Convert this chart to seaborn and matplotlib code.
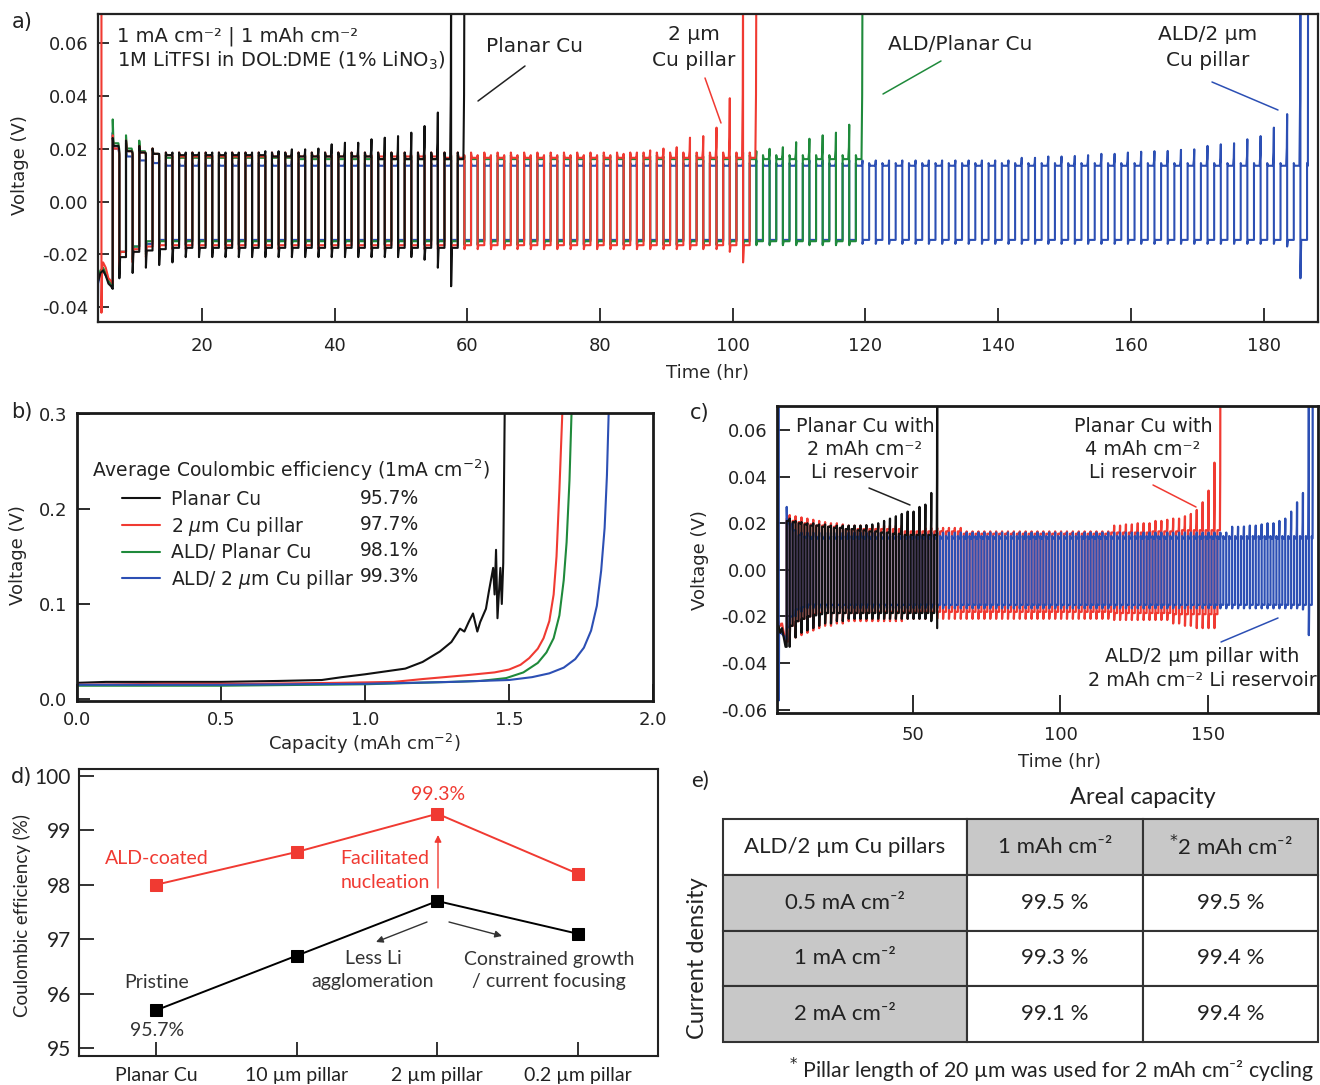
import numpy as np
import pandas as pd
import matplotlib
matplotlib.use("Agg")
import matplotlib.pyplot as plt
from matplotlib.lines import Line2D
import seaborn as sns

# ============================ DATA ============================
# ---- (a) Li plating/stripping, 1 mA cm-2 | 1 mAh cm-2 (per-cycle readings) ----
A_FIRST_EDGE = 6.55      # h, first stripping step
A_PERIOD = 2.0           # h per cycle

# Planar Cu (black), 27 cycles
a_planar_init_t = [4.35, 4.7, 5.1, 5.5, 5.9, 6.3, 6.55]
a_planar_init_v = [-0.030, -0.027, -0.026, -0.028, -0.031, -0.032, -0.033]
a_planar_start = [0.024, 0.023, 0.021, 0.020] + [0.0185] * 23
a_planar_up = [0.021, 0.019, 0.0185, 0.018] + [0.0175] * 8 + [0.017] * 8 + [0.016] * 7
a_planar_peak = [0.018] * 4 + [0.0185] * 7 + [0.019, 0.019, 0.0197, 0.0197, 0.020, 0.0216,
                                               0.0222, 0.0222, 0.0235, 0.0241, 0.0247, 0.026,
                                               0.0285, 0.0336, 0.085, 0.085]
a_planar_down = [-0.021, -0.019, -0.0185, -0.018] + [-0.0175] * 23
a_planar_dip = [-0.029, -0.027, -0.025, -0.024, -0.023] + [-0.021] * 18 + [-0.022, -0.025, -0.032, -0.020]

# 2 um Cu pillar (red), 49 cycles
a_pillar_init_t = [4.85, 4.85, 4.95, 5.1, 5.5, 5.9, 6.3, 6.55]
a_pillar_init_v = [0.072, -0.042, -0.025, -0.023, -0.025, -0.029, -0.030, -0.031]
a_pillar_start = [0.025, 0.023, 0.021, 0.020] + [0.0185] * 45
a_pillar_up = [0.020, 0.019, 0.0185, 0.018, 0.0175] + [0.017] * 20 + [0.0165] * 24
a_pillar_peak = [0.0175] * 37 + [0.0175, 0.018, 0.0185, 0.0193, 0.020, 0.0205, 0.0241,
                                 0.0247, 0.0279, 0.039, 0.085, 0.085]
a_pillar_down = [-0.019, -0.018, -0.017] + [-0.0165] * 46
a_pillar_dip = [-0.025, -0.023, -0.021] + [-0.018] * 43 + [-0.019, -0.023, -0.018]

# ALD / planar Cu (green), 57 cycles
a_ald_init_t = [4.35, 4.7, 5.1, 5.5, 5.9, 6.3, 6.55]
a_ald_init_v = [-0.029, -0.026, -0.025, -0.027, -0.030, -0.031, -0.032]
a_ald_start = [0.031, 0.025, 0.023, 0.020] + [0.0175] * 53
a_ald_up = [0.022, 0.020, 0.019, 0.018] + [0.0165] * 10 + [0.016] * 43
a_ald_peak = [0.017] * 47 + [0.0185, 0.019, 0.0199, 0.0205, 0.0224, 0.0237, 0.025, 0.026, 0.029, 0.085]
a_ald_down = [-0.019, -0.017] + [-0.015] * 55
a_ald_dip = [-0.026, -0.022, -0.020] + [-0.0165] * 54

# ALD / 2 um Cu pillar (blue), 91 cycles
a_aldp_init_t = [4.3, 4.35, 4.7, 5.1, 5.5, 5.9, 6.3, 6.55]
a_aldp_init_v = [-0.046, -0.031, -0.027, -0.026, -0.028, -0.030, -0.031, -0.032]
a_aldp_start = [0.026, 0.022, 0.019, 0.017] + [0.0145] * 87
a_aldp_up = [0.020, 0.017, 0.0155, 0.0145] + [0.0135] * 87
a_aldp_peak = [0.0155] * 68 + [0.0165, 0.0165, 0.017, 0.017, 0.0172, 0.0175, 0.018, 0.018, 0.0185,
                               0.0188, 0.019, 0.0191, 0.0195, 0.0197, 0.021, 0.0216, 0.022, 0.0235,
                               0.0247, 0.0279, 0.033, 0.085, 0.085]
a_aldp_down = [-0.019, -0.017, -0.016] + [-0.0145] * 88
a_aldp_dip = [-0.026, -0.022, -0.019] + [-0.016] * 85 + [-0.017, -0.029, -0.016]
A_ALDP_FINAL_STRIP = 0.15

# ---- (b) voltage profile vs capacity ----
b_planar_cap = [0.0, 0.1, 0.3, 0.5, 0.7, 0.85, 0.92, 1.0, 1.07, 1.14, 1.2, 1.26, 1.30, 1.33, 1.345,
                1.36, 1.375, 1.39, 1.40, 1.42, 1.43, 1.445, 1.45, 1.455, 1.46, 1.47, 1.475, 1.48, 1.485]
b_planar_v = [0.017, 0.018, 0.018, 0.018, 0.019, 0.020, 0.023, 0.026, 0.029, 0.032, 0.039, 0.050,
              0.060, 0.074, 0.071, 0.081, 0.090, 0.071, 0.081, 0.095, 0.113, 0.138, 0.110, 0.157,
              0.085, 0.138, 0.100, 0.143, 0.300]
b_pillar_cap = [0.0, 0.3, 0.6, 0.9, 1.1, 1.2, 1.35, 1.45, 1.5, 1.54, 1.57, 1.60, 1.62, 1.64, 1.655,
                1.665, 1.675, 1.685]
b_pillar_v = [0.015, 0.016, 0.016, 0.017, 0.018, 0.021, 0.025, 0.028, 0.031, 0.036, 0.043, 0.053,
              0.064, 0.082, 0.110, 0.150, 0.220, 0.300]
b_ald_cap = [0.0, 0.5, 1.0, 1.3, 1.4, 1.49, 1.55, 1.60, 1.63, 1.655, 1.675, 1.69, 1.70, 1.71, 1.717]
b_ald_v = [0.014, 0.014, 0.0155, 0.018, 0.019, 0.022, 0.028, 0.038, 0.049, 0.064, 0.088, 0.125,
           0.165, 0.230, 0.300]
b_aldp_cap = [0.0, 0.5, 1.0, 1.3, 1.5, 1.58, 1.64, 1.69, 1.73, 1.76, 1.785, 1.805, 1.82, 1.832,
              1.84, 1.846]
b_aldp_v = [0.015, 0.015, 0.016, 0.018, 0.020, 0.023, 0.027, 0.033, 0.042, 0.054, 0.072, 0.098,
            0.135, 0.180, 0.235, 0.300]
b_labels = ["Planar Cu", "2 $\\mu$m Cu pillar", "ALD/ Planar Cu", "ALD/ 2 $\\mu$m Cu pillar"]
b_ce = ["95.7%", "97.7%", "98.1%", "99.3%"]

# ---- (c) cycling with Li reservoir ----
C_FIRST_EDGE = 7.2
C_PERIOD = 2.0
# planar Cu + 2 mAh reservoir (black), 26 cycles
c_planar_init_t = [4.4, 5.0, 5.6, 6.2, 6.8, 7.2]
c_planar_init_v = [-0.024, -0.027, -0.025, -0.029, -0.033, -0.033]
c_planar_up = [0.021, 0.0205, 0.020, 0.0195, 0.019, 0.019, 0.0185, 0.0185, 0.018, 0.018, 0.0175,
               0.0175, 0.017, 0.017, 0.0165, 0.0165, 0.016, 0.016, 0.0155, 0.0155, 0.015, 0.015,
               0.015, 0.015, 0.015, 0.015]
c_planar_peak = [0.022, 0.021, 0.0205, 0.020, 0.020, 0.0195, 0.0195, 0.019, 0.019, 0.019, 0.019,
                 0.019, 0.019, 0.0192, 0.0195, 0.020, 0.021, 0.022, 0.023, 0.024, 0.025, 0.025,
                 0.027, 0.028, 0.033, 0.085]
c_planar_down = [-0.024, -0.022, -0.021, -0.020, -0.0195, -0.019] + [-0.0185] * 20
c_planar_dip = [-0.033, -0.029, -0.027, -0.026, -0.025, -0.024, -0.023, -0.023, -0.022, -0.022] + \
               [-0.021] * 14 + [-0.022, -0.025]
# planar Cu + 4 mAh reservoir (red), 74 cycles
c_pillar_init_t = [4.4, 5.0, 5.6, 6.2, 6.8, 7.2]
c_pillar_init_v = [-0.022, -0.024, -0.023, -0.027, -0.030, -0.031]
c_pillar_up = [0.022, 0.021, 0.0205, 0.020, 0.0195, 0.019, 0.019, 0.0185, 0.0185, 0.018] + \
              [0.0175] * 10 + [0.0165] * 10 + [0.0155] * 25 + [0.016] * 7 + [0.0165] * 5 + [0.017] * 7
c_pillar_peak = [0.0235, 0.023, 0.0225, 0.022, 0.0215, 0.021, 0.0205, 0.020, 0.020, 0.0195] + \
                [0.019] * 10 + [0.018] * 10 + [0.0165] * 25 + \
                [0.019, 0.019, 0.0195, 0.0195, 0.020, 0.020, 0.020] + \
                [0.021, 0.021, 0.0215, 0.022, 0.022] + \
                [0.023, 0.024, 0.0257, 0.029, 0.034, 0.046, 0.085]
c_pillar_down = [-0.024, -0.022, -0.021, -0.020, -0.019] + [-0.0185] * 10 + [-0.018] * 40 + \
                [-0.0185] * 10 + [-0.019] * 9
c_pillar_dip = [-0.031, -0.029, -0.028, -0.027, -0.026, -0.025, -0.024, -0.024, -0.023, -0.023] + \
               [-0.022] * 10 + [-0.021] * 35 + [-0.0215] * 10 + \
               [-0.023, -0.023, -0.024, -0.024, -0.025, -0.025, -0.025, -0.025, -0.025]
# ALD / 2 um pillar + 2 mAh reservoir (blue), 90 cycles
c_aldp_init_t = [4.5, 4.5, 4.6, 5.2, 6.0, 6.6, 7.2]
c_aldp_init_v = [0.072, -0.056, -0.026, -0.027, -0.028, -0.029, -0.030]
c_aldp_start = [0.027, 0.020] + [0.0145] * 88
c_aldp_up = [0.020, 0.017, 0.015, 0.014] + [0.0135] * 86
c_aldp_peak = [0.017, 0.017, 0.016, 0.016] + [0.016] * 71 + \
              [0.0185, 0.0185, 0.0186, 0.019, 0.019, 0.0195, 0.020, 0.020, 0.021, 0.022, 0.025,
               0.029, 0.033, 0.085, 0.085]
c_aldp_down = [-0.020, -0.017, -0.016] + [-0.015] * 87
c_aldp_dip = [-0.025, -0.020, -0.018] + [-0.0165] * 84 + [-0.017, -0.028, -0.016]
C_ALDP_FINAL_STRIP = 0.3

# ---- (d) Coulombic efficiency ----
d_categories = ["Planar Cu", "10 µm pillar", "2 µm pillar", "0.2 µm pillar"]
d_pristine = [95.7, 96.7, 97.7, 97.1]
d_ald = [98.0, 98.6, 99.3, 98.2]

# ---- (e) table ----
e_col_labels = ["ALD/2 µm Cu pillars", "1 mAh cm⁻²", "$^{*}$2 mAh cm⁻²"]
e_row_labels = ["0.5 mA cm⁻²", "1 mA cm⁻²", "2 mA cm⁻²"]
e_ce_1mAh = [99.5, 99.3, 99.1]
e_ce_2mAh = [99.5, 99.4, 99.4]

# ============================ STYLE ============================
BLACK, RED, GREEN, BLUE = "#111111", "#f03a32", "#1f8a3b", "#2c4fb4"
TXT = "#222222"
W, H = 1320, 1085
sns.set_theme(style="ticks")
plt.rcParams["font.family"] = ["DejaVu Sans"]
plt.rcParams["axes.unicode_minus"] = False
plt.rcParams["mathtext.fontset"] = "dejavusans"
SANS2 = ["Lato", "DejaVu Sans"]

fig = plt.figure(figsize=(W / 100, H / 100), dpi=100)


def rect(l, t, r, b):
    return [l / W, 1 - b / H, (r - l) / W, (b - t) / H]


def fp(x, y):
    return (x / W, 1 - y / H)


def build_trace(first_edge, period, up, peak, down, dip, start=None, init_t=(), init_v=(),
                final_strip=None, end_drop=False):
    t, v = list(init_t), list(init_v)
    half = period / 2.0
    n = len(up)
    for k in range(n):
        t0 = first_edge + k * period
        s = up[k] if start is None else start[k]
        L = half if (k < n - 1 or final_strip is None) else final_strip
        t += [t0, t0 + 0.12 * L, t0 + 0.85 * L, t0 + 0.95 * L, t0 + L]
        v += [s, up[k], up[k], up[k] + 0.35 * (peak[k] - up[k]), peak[k]]
        if k < n - 1:
            t += [t0 + half, t0 + half + 0.12, t0 + period]
            v += [dip[k], down[k], down[k]]
        elif end_drop:
            t += [t0 + L]
            v += [dip[k]]
    return pd.DataFrame({"t": t, "v": v})


def style_axes(ax, lw=1.6, color="#222222", xlen=9, ylen=8, labelsize=13, pad=7):
    for s in ax.spines.values():
        s.set_visible(True)
        s.set_linewidth(lw)
        s.set_color(color)
    ax.tick_params(axis="both", direction="in", width=1.3, color=color, labelsize=labelsize,
                   top=False, right=False, pad=pad, labelcolor=TXT)
    ax.tick_params(axis="x", length=xlen)
    ax.tick_params(axis="y", length=ylen)
    ax.grid(False)


def leader(p0, p1, color):
    fig.add_artist(Line2D([fp(*p0)[0], fp(*p1)[0]], [fp(*p0)[1], fp(*p1)[1]],
                          color=color, lw=1.1, transform=fig.transFigure))


def line(ax, df, color, lw=1.2):
    sns.lineplot(data=df, x="t", y="v", sort=False, estimator=None, color=color, lw=lw, ax=ax)


# ============================ (a) ============================
ax_a = fig.add_axes(rect(98, 14, 1318, 322))
traces_a = [
    (build_trace(A_FIRST_EDGE, A_PERIOD, a_aldp_up, a_aldp_peak, a_aldp_down, a_aldp_dip,
                 a_aldp_start, a_aldp_init_t, a_aldp_init_v, final_strip=A_ALDP_FINAL_STRIP), BLUE),
    (build_trace(A_FIRST_EDGE, A_PERIOD, a_ald_up, a_ald_peak, a_ald_down, a_ald_dip,
                 a_ald_start, a_ald_init_t, a_ald_init_v), GREEN),
    (build_trace(A_FIRST_EDGE, A_PERIOD, a_pillar_up, a_pillar_peak, a_pillar_down, a_pillar_dip,
                 a_pillar_start, a_pillar_init_t, a_pillar_init_v), RED),
    (build_trace(A_FIRST_EDGE, A_PERIOD, a_planar_up, a_planar_peak, a_planar_down, a_planar_dip,
                 a_planar_start, a_planar_init_t, a_planar_init_v), BLACK),
]
for df, col in traces_a:
    line(ax_a, df, col, lw=1.5)
ax_a.set_xlim(4.33, 188.2)
ax_a.set_ylim(-0.0455, 0.0708)
ax_a.set_xticks(np.arange(20, 181, 20))
ax_a.set_yticks(np.arange(-0.04, 0.061, 0.02))
ax_a.yaxis.set_major_formatter(matplotlib.ticker.FormatStrFormatter("%.2f"))
style_axes(ax_a, xlen=10, ylen=8)
ax_a.tick_params(axis="x", pad=11)
ax_a.set_xlabel("Time (hr)", fontsize=13)
ax_a.set_ylabel("Voltage (V)", fontsize=13)
ax_a.xaxis.set_label_coords(0.5, -0.166)
ax_a.yaxis.set_label_coords(-0.064, 0.51)
ax_a.xaxis.label.set_va("center")
ax_a.yaxis.label.set_va("center")

AF = 14.5
fig.text(*fp(117, 36), "1 mA cm⁻² | 1 mAh cm⁻²", fontsize=14, va="center", ha="left", color=TXT)
fig.text(*fp(117, 61), "1M LiTFSI in DOL:DME (1% LiNO$_3$)", fontsize=14, va="center", ha="left", color=TXT)
fig.text(*fp(535, 46), "Planar Cu", fontsize=AF, ha="center", va="center", color=TXT)
leader((525, 66), (478, 101), TXT)
fig.text(*fp(694, 35), "2 µm", fontsize=AF, ha="center", va="center", color=TXT)
fig.text(*fp(694, 61), "Cu pillar", fontsize=AF, ha="center", va="center", color=TXT)
leader((705, 78), (721, 123), RED)
fig.text(*fp(960, 45), "ALD/Planar Cu", fontsize=AF, ha="center", va="center", color=TXT)
leader((941, 61), (883, 94), GREEN)
fig.text(*fp(1208, 35), "ALD/2 µm", fontsize=AF, ha="center", va="center", color=TXT)
fig.text(*fp(1208, 61), "Cu pillar", fontsize=AF, ha="center", va="center", color=TXT)
leader((1212, 82), (1278, 110), BLUE)

# ============================ (b) ============================
ax_b = fig.add_axes(rect(77, 413, 653, 701))
for cap, vv, col, lab in [(b_planar_cap, b_planar_v, BLACK, b_labels[0]),
                          (b_pillar_cap, b_pillar_v, RED, b_labels[1]),
                          (b_ald_cap, b_ald_v, GREEN, b_labels[2]),
                          (b_aldp_cap, b_aldp_v, BLUE, b_labels[3])]:
    sns.lineplot(x=cap, y=vv, sort=False, estimator=None, color=col, lw=1.5, ax=ax_b, label=lab)
ax_b.set_xlim(0, 2.0)
ax_b.set_ylim(-0.0021, 0.301)
ax_b.set_xticks([0.0, 0.5, 1.0, 1.5, 2.0])
ax_b.set_yticks([0.0, 0.1, 0.2, 0.3])
ax_b.xaxis.set_major_formatter(matplotlib.ticker.FormatStrFormatter("%.1f"))
ax_b.yaxis.set_major_formatter(matplotlib.ticker.FormatStrFormatter("%.1f"))
style_axes(ax_b, lw=2.0, color="#1a1a1a", xlen=12, ylen=9)
ax_b.set_xlabel("Capacity (mAh cm$^{-2}$)", fontsize=13)
ax_b.set_ylabel("Voltage (V)", fontsize=13)
ax_b.xaxis.set_label_coords(0.499, -0.149)
ax_b.yaxis.set_label_coords(-0.103, 0.507)
ax_b.xaxis.label.set_va("center")
ax_b.yaxis.label.set_va("center")
leg = ax_b.legend(loc="upper left", bbox_to_anchor=fp(122, 490), bbox_transform=fig.transFigure,
                  frameon=False, fontsize=13.5, handlelength=2.0, handletextpad=0.6,
                  labelspacing=0.3, borderpad=0, borderaxespad=0)
for t in leg.get_texts():
    t.set_color(TXT)
fig.text(*fp(92, 470), "Average Coulombic efficiency (1mA cm$^{-2}$)", fontsize=13.5, va="center",
         ha="left", color=TXT)
for i, ce in enumerate(b_ce):
    fig.text(*fp(360, 498 + 26 * i), ce, fontsize=13.5, va="center", ha="left", color=TXT)

# ============================ (c) ============================
ax_c = fig.add_axes(rect(777, 406, 1318, 713))
traces_c = [
    (build_trace(C_FIRST_EDGE, C_PERIOD, c_pillar_up, c_pillar_peak, c_pillar_down, c_pillar_dip,
                 None, c_pillar_init_t, c_pillar_init_v), RED),
    (build_trace(C_FIRST_EDGE, C_PERIOD, c_aldp_up, c_aldp_peak, c_aldp_down, c_aldp_dip,
                 c_aldp_start, c_aldp_init_t, c_aldp_init_v, final_strip=C_ALDP_FINAL_STRIP), BLUE),
    (build_trace(C_FIRST_EDGE, C_PERIOD, c_planar_up, c_planar_peak, c_planar_down, c_planar_dip,
                 None, c_planar_init_t, c_planar_init_v, end_drop=True), BLACK),
]
for df, col in traces_c:
    line(ax_c, df, col, lw=1.6)
ax_c.set_xlim(3.9, 187.3)
ax_c.set_ylim(-0.0614, 0.0703)
ax_c.set_xticks([50, 100, 150])
ax_c.set_yticks(np.arange(-0.06, 0.061, 0.02))
ax_c.yaxis.set_major_formatter(matplotlib.ticker.FormatStrFormatter("%.2f"))
style_axes(ax_c, lw=2.0, color="#1a1a1a", xlen=13, ylen=9)
ax_c.tick_params(axis="x", pad=9)
ax_c.set_xlabel("Time (hr)", fontsize=13)
ax_c.set_ylabel("Voltage (V)", fontsize=13)
ax_c.xaxis.set_label_coords(0.523, -0.16)
ax_c.yaxis.set_label_coords(-0.142, 0.498)
ax_c.xaxis.label.set_va("center")
ax_c.yaxis.label.set_va("center")
CF = 13.8
for i, s in enumerate(["Planar Cu with", "2 mAh cm⁻²", "Li reservoir"]):
    fig.text(*fp(865, 426 + 23.5 * i), s, fontsize=CF, ha="center", va="center", color=TXT)
leader((869, 488), (910, 505), TXT)
for i, s in enumerate(["Planar Cu with", "4 mAh cm⁻²", "Li reservoir"]):
    fig.text(*fp(1143, 426 + 23.5 * i), s, fontsize=CF, ha="center", va="center", color=TXT)
leader((1153, 485), (1196, 507), RED)
fig.text(*fp(1202, 657), "ALD/2 µm pillar with", fontsize=13.8, ha="center", va="center", color=TXT)
fig.text(*fp(1317, 681), "2 mAh cm⁻² Li reservoir", fontsize=13.8, ha="right", va="center", color=TXT)
leader((1221, 642), (1278, 618), BLUE)

# ============================ (d) ============================
ax_d = fig.add_axes(rect(79, 769, 658, 1056))
sns.lineplot(x=d_categories, y=d_ald, sort=False, color=RED, marker="s", markersize=8,
             markeredgecolor=RED, lw=1.4, ax=ax_d)
sns.lineplot(x=d_categories, y=d_pristine, sort=False, color="black", marker="s", markersize=8,
             markeredgecolor="black", lw=1.4, ax=ax_d)
ax_d.set_xlim(-0.55, 3.57)
ax_d.set_ylim(94.86, 100.12)
ax_d.set_yticks([95, 96, 97, 98, 99, 100])
style_axes(ax_d, lw=1.5, color="#222222", xlen=10, ylen=11, labelsize=15, pad=6)
for lab in ax_d.get_xticklabels() + ax_d.get_yticklabels():
    lab.set_fontfamily(SANS2)
ax_d.tick_params(axis="x", labelsize=14, pad=8)
ax_d.set_ylabel("Coulombic efficiency (%)", fontsize=13.5, fontfamily=SANS2)
ax_d.set_xlabel("")
ax_d.yaxis.set_label_coords(-0.098, 0.491)
ax_d.yaxis.label.set_va("center")

dtxt = dict(fontsize=14, ha="center", va="center", fontfamily=SANS2)
fig.text(*fp(157, 858), "ALD-coated", color=RED, **dtxt)
fig.text(*fp(385, 858), "Facilitated", color=RED, **dtxt)
fig.text(*fp(385, 882), "nucleation", color=RED, **dtxt)
fig.text(*fp(438, 795), "99.3%", color=RED, **dtxt)
fig.text(*fp(373, 959), "Less Li", color="#333333", **dtxt)
fig.text(*fp(373, 982), "agglomeration", color="#333333", **dtxt)
fig.text(*fp(549, 959), "Constrained growth", color="#333333", **dtxt)
fig.text(*fp(549, 982), "/ current focusing", color="#333333", **dtxt)
fig.text(*fp(157, 983), "Pristine", color="#333333", **dtxt)
fig.text(*fp(157, 1031), "95.7%", color="#333333", **dtxt)
for (x0, y0), (x1, y1), col in [((438, 888), (438, 835), RED),
                                ((427, 922), (376, 942), "#333333"),
                                ((449, 922), (502, 936), "#333333")]:
    fig.add_artist(matplotlib.patches.FancyArrowPatch(
        fp(x0, y0), fp(x1, y1), transform=fig.transFigure, arrowstyle="-|>,head_length=4,head_width=2",
        color=col, lw=1.0, shrinkA=0, shrinkB=0))

# ============================ (e) ============================
ax_e = fig.add_axes(rect(723, 819, 1318, 1042))
ax_e.axis("off")
GRAY = "#c8c8c8"
cell_text = [e_col_labels] + [[r, f"{a} %", f"{b} %"] for r, a, b in zip(e_row_labels, e_ce_1mAh, e_ce_2mAh)]
cell_col = [["white", GRAY, GRAY]] + [[GRAY, "white", "white"] for _ in e_row_labels]
tbl = ax_e.table(cellText=cell_text, cellColours=cell_col, cellLoc="center", bbox=[0, 0, 1, 1],
                 colWidths=[244 / 595, 176 / 595, 175 / 595])
tbl.auto_set_font_size(False)
for (r, c), cell in tbl.get_celld().items():
    cell.set_edgecolor("#333333")
    cell.set_linewidth(1.5)
    cell.get_text().set_fontsize(16)
    cell.get_text().set_fontfamily(SANS2)
    cell.get_text().set_color(TXT)

fig.text(*fp(1143, 797), "Areal capacity", fontsize=17, ha="center", va="center", fontfamily=SANS2, color=TXT)
fig.text(*fp(697, 958), "Current density", fontsize=17, ha="center", va="center", rotation=90,
         fontfamily=SANS2, color=TXT)
fig.text(*fp(1052, 1070), "$^{*}$ Pillar length of 20 µm was used for 2 mAh cm⁻² cycling", fontsize=15.3,
         ha="center", va="center", fontfamily=SANS2, color=TXT)

# panel labels
for lab, (x, y) in {"a)": (22, 22), "b)": (22, 412), "c)": (700, 413), "d)": (22, 777)}.items():
    fig.text(*fp(x, y), lab, fontsize=15, ha="center", va="center", color=TXT)
fig.text(*fp(700, 781), "e)", fontsize=16, ha="center", va="center", fontfamily=SANS2, color=TXT)

fig.savefig("out.png", dpi=100)
